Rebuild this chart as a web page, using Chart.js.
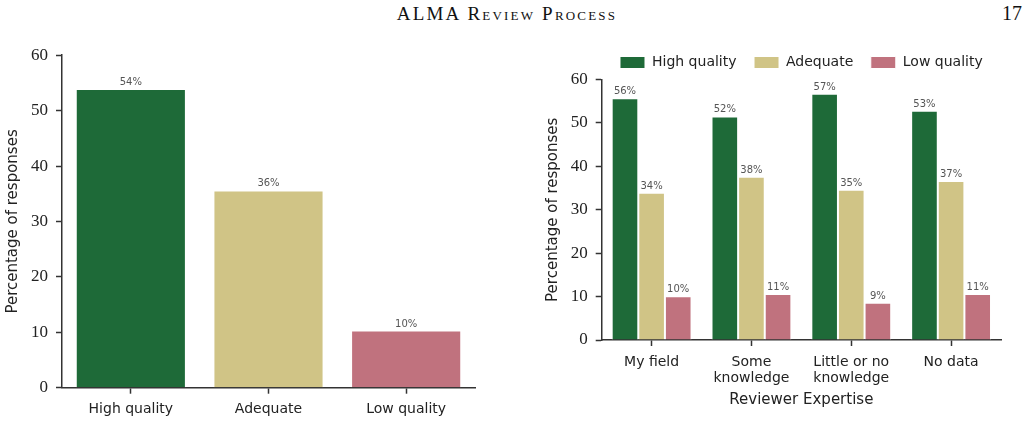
<!DOCTYPE html>
<html>
<head>
<meta charset="utf-8">
<script src="https://cdn.jsdelivr.net/npm/chart.js@4.4.1/dist/chart.umd.min.js"></script>
<style>
  html, body { margin: 0; padding: 0; background: #fff; }
  body { width: 1028px; height: 423px; position: relative; overflow: hidden; }
  .header { position: absolute; top: 3px; font-family: "Liberation Serif", serif; font-size: 19px; color: #111; }
  #title { left: 0; width: 1014px; text-align: center; font-variant: small-caps; letter-spacing: 2.2px; }
  #page { right: 6px; font-size: 20px; top: 2px; }
  #leftBox { position: absolute; left: 0; top: 37px; width: 500px; height: 386px; }
  #rightBox { position: absolute; left: 520px; top: 38px; width: 508px; height: 385px; }
</style>
</head>
<body>
<div class="header" id="title">ALMA Review Process</div>
<div class="header" id="page">17</div>
<div id="leftBox"><canvas id="overallChart"></canvas></div>
<div id="rightBox"><canvas id="expertiseChart"></canvas></div>
<script>
var qualityLabels = ['High quality', 'Adequate', 'Low quality'];
var overallValues = [53.9, 35.6, 10.3];

var expertiseLabels = [['My field'], ['Some', 'knowledge'], ['Little or no', 'knowledge'], ['No data']];
var highQuality = [55.7, 51.5, 56.7, 52.8];
var adequate = [33.9, 37.6, 34.6, 36.6];
var lowQuality = [10.1, 10.6, 8.6, 10.6];

var yTicks = [0, 10, 20, 30, 40, 50, 60];

var green = '#1e6a38';
var tan = '#d0c486';
var rose = '#c0727e';
var axisColor = '#333';

// percentage labels on top of every bar
var barLabels = {
  id: 'barLabels',
  afterDatasetsDraw: function(chart) {
    var ctx = chart.ctx;
    ctx.save();
    ctx.font = '10px "DejaVu Sans"';
    ctx.fillStyle = '#555';
    ctx.textAlign = 'center';
    ctx.textBaseline = 'alphabetic';
    chart.data.datasets.forEach(function(ds, i) {
      chart.getDatasetMeta(i).data.forEach(function(bar, j) {
        ctx.fillText(Math.round(ds.data[j]) + '%', bar.x, bar.y - 4);
      });
    });
    ctx.restore();
  }
};

function yScale(width, titlePad) {
  return {
    min: 0,
    max: 60,
    afterFit: function(scale) { scale.width = width; },
    afterBuildTicks: function(scale) {
      scale.ticks = yTicks.map(function(v) { return {value: v}; });
    },
    border: { display: true, color: axisColor, width: 1.5 },
    grid: { drawOnChartArea: false, drawTicks: true, tickLength: 6, tickColor: axisColor, tickWidth: 1.5 },
    ticks: { padding: 8, color: '#222', font: { family: 'Liberation Serif', size: 17 } },
    title: {
      display: true,
      text: 'Percentage of responses',
      color: '#222',
      padding: { top: titlePad, bottom: 0 },
      font: { family: 'DejaVu Sans', size: 15 }
    }
  };
}

function xScale(height) {
  return {
    type: 'category',
    afterFit: function(scale) { scale.height = height; },
    border: { display: true, color: axisColor, width: 1.5 },
    grid: { offset: false, drawOnChartArea: false, drawTicks: true, tickLength: 6, tickColor: axisColor, tickWidth: 1.5 },
    ticks: { padding: 8, color: '#222', maxRotation: 0, autoSkip: false, font: { family: 'DejaVu Sans', size: 14, lineHeight: 1.15 } }
  };
}

var leftCtx = document.getElementById('overallChart').getContext('2d');
var overallChart = new Chart(leftCtx, {
  type: 'bar',
  data: {
    labels: qualityLabels,
    datasets: [{
      data: overallValues,
      backgroundColor: [green, tan, rose],
      borderColor: '#fff',
      borderWidth: 1,
      barPercentage: 0.8,
      categoryPercentage: 1
    }]
  },
  options: {
    responsive: true,
    maintainAspectRatio: false,
    animation: false,
    layout: { padding: { left: 0, top: 15, right: 25, bottom: 0 } },
    scales: { x: xScale(35.3), y: yScale(62, 4) },
    plugins: { legend: { display: false }, tooltip: { enabled: false } }
  },
  plugins: [barLabels]
});

var rightX = xScale(69);
rightX.title = {
  display: true,
  text: 'Reviewer Expertise',
  color: '#222',
  padding: { top: 0, bottom: 0 },
  font: { family: 'DejaVu Sans', size: 15 }
};

var rightCtx = document.getElementById('expertiseChart').getContext('2d');
var expertiseChart = new Chart(rightCtx, {
  type: 'bar',
  data: {
    labels: expertiseLabels,
    datasets: [
      { label: 'High quality', data: highQuality, backgroundColor: green },
      { label: 'Adequate', data: adequate, backgroundColor: tan },
      { label: 'Low quality', data: lowQuality, backgroundColor: rose }
    ]
  },
  options: {
    responsive: true,
    maintainAspectRatio: false,
    animation: false,
    datasets: {
      bar: { borderColor: '#fff', borderWidth: 1, barPercentage: 1, categoryPercentage: 0.8 }
    },
    layout: { padding: { left: 0, top: 0, right: 27, bottom: 14 } },
    scales: { x: rightX, y: yScale(81.7, 24) },
    plugins: {
      legend: {
        display: true,
        position: 'top',
        fullSize: false,
        labels: {
          boxWidth: 25,
          boxHeight: 12,
          padding: 17.5,
          color: '#222',
          font: { family: 'DejaVu Sans', size: 14 }
        }
      },
      tooltip: { enabled: false }
    }
  },
  plugins: [barLabels]
});
</script>
</body>
</html>
